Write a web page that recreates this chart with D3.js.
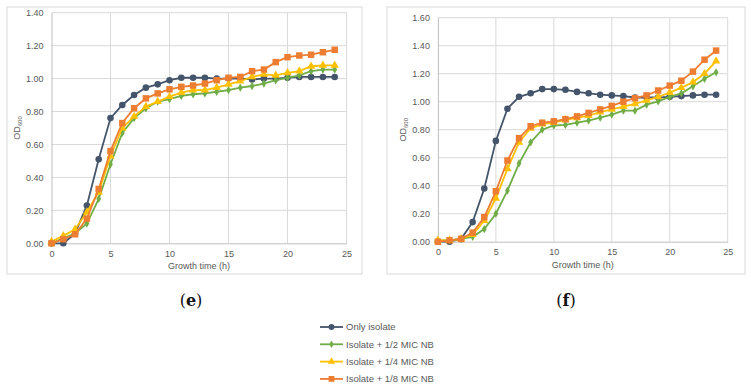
<!DOCTYPE html>
<html>
<head>
<meta charset="utf-8">
<script src="https://cdn.jsdelivr.net/npm/d3@7"></script>
<style>
  body { margin: 0; background: #fff; }
  text { font-family: "Liberation Sans", Arial, sans-serif; }
  text.panel { font-family: "DejaVu Serif", "Liberation Serif", serif; }
</style>
</head>
<body>
<svg width="751" height="387"></svg>
<script>
// hours 0..24
let hours = d3.range(0, 25)
let seriesNames = ["Only isolate", "Isolate + 1/2 MIC NB", "Isolate + 1/4 MIC NB", "Isolate + 1/8 MIC NB"]
let colors = ["#44546a", "#70ad47", "#ffc000", "#ed7d31"]
let shapes = ["circle", "diamond", "triangle", "square"]

// panel (e)
let eOnly = [0.00, 0.00, 0.06, 0.23, 0.51, 0.76, 0.84, 0.90, 0.945, 0.965, 0.99, 1.005, 1.005, 1.005, 1.00, 1.00, 1.00, 0.995, 1.00, 1.00, 1.005, 1.01, 1.01, 1.01, 1.01]
let eHalf = [0.00, 0.03, 0.06, 0.12, 0.27, 0.48, 0.67, 0.76, 0.82, 0.86, 0.875, 0.895, 0.905, 0.91, 0.92, 0.93, 0.945, 0.955, 0.97, 0.99, 1.005, 1.02, 1.045, 1.055, 1.055]
let eQuarter = [0.01, 0.045, 0.085, 0.19, 0.31, 0.53, 0.70, 0.77, 0.83, 0.86, 0.89, 0.915, 0.93, 0.93, 0.945, 0.965, 0.985, 1.01, 1.025, 1.02, 1.035, 1.045, 1.075, 1.08, 1.08]
let eEighth = [0.00, 0.025, 0.055, 0.15, 0.33, 0.56, 0.73, 0.82, 0.88, 0.91, 0.935, 0.95, 0.958, 0.97, 0.99, 1.005, 1.01, 1.045, 1.055, 1.10, 1.13, 1.14, 1.145, 1.16, 1.175]

// panel (f)
let fOnly = [0.00, 0.00, 0.02, 0.14, 0.38, 0.72, 0.95, 1.035, 1.06, 1.09, 1.09, 1.085, 1.07, 1.06, 1.05, 1.045, 1.04, 1.03, 1.03, 1.03, 1.035, 1.04, 1.045, 1.05, 1.05]
let fHalf = [0.01, 0.01, 0.02, 0.035, 0.09, 0.20, 0.365, 0.56, 0.71, 0.80, 0.83, 0.835, 0.85, 0.865, 0.886, 0.908, 0.936, 0.936, 0.979, 1.002, 1.035, 1.06, 1.11, 1.164, 1.21]
let fQuarter = [0.01, 0.01, 0.02, 0.05, 0.15, 0.31, 0.52, 0.71, 0.81, 0.84, 0.85, 0.87, 0.885, 0.90, 0.925, 0.945, 0.965, 0.985, 1.01, 1.035, 1.065, 1.10, 1.14, 1.20, 1.29]
let fEighth = [0.00, 0.01, 0.02, 0.065, 0.175, 0.36, 0.58, 0.74, 0.825, 0.85, 0.86, 0.875, 0.895, 0.92, 0.945, 0.97, 1.00, 1.025, 1.045, 1.08, 1.115, 1.15, 1.215, 1.30, 1.365]

let xTicks = [0, 5, 10, 15, 20, 25]
let eTicks = [0, 0.2, 0.4, 0.6, 0.8, 1.0, 1.2, 1.4]
let fTicks = [0, 0.2, 0.4, 0.6, 0.8, 1.0, 1.2, 1.4, 1.6]

let svg = d3.select("svg")
let grey = "#595959"
let gridCol = "#d9d9d9"

function symbolPath(shape, size) {
    let t = {circle: d3.symbolCircle, diamond: d3.symbolDiamond, triangle: d3.symbolTriangle, square: d3.symbolSquare}[shape]
    return d3.symbol().type(t).size(size)()
}
let sizes = {circle: 34, diamond: 20, triangle: 30, square: 42}

function panel(box, plot, yMax, yTicks, series, label, labelX) {
    svg.append("rect")
    .attr("x", box[0]).attr("y", box[1])
    .attr("width", box[2]).attr("height", box[3])
    .attr("fill", "#fff").attr("stroke", gridCol).attr("stroke-width", 1)

    let x = d3.scaleLinear().domain([0, 25]).range([plot[0], plot[1]])
    let y = d3.scaleLinear().domain([0, yMax]).range([plot[3], plot[2]])

    let g = svg.append("g")

    // gridlines
    g.selectAll(".hg").data(yTicks.slice(1)).enter().append("line")
    .attr("x1", plot[0]).attr("x2", plot[1])
    .attr("y1", (d) => y(d)).attr("y2", (d) => y(d))
    .attr("stroke", gridCol).attr("stroke-width", 1)
    g.selectAll(".vg").data(xTicks.slice(1)).enter().append("line")
    .attr("x1", (d) => x(d)).attr("x2", (d) => x(d))
    .attr("y1", plot[2]).attr("y2", plot[3])
    .attr("stroke", gridCol).attr("stroke-width", 1)

    // axes
    let ax = g.append("g")
    .attr("transform", "translate(0," + plot[3] + ")")
    .call(d3.axisBottom(x).tickValues(xTicks).tickSize(0).tickPadding(7))
    ax.select(".domain").attr("stroke", "#bfbfbf")
    ax.selectAll("text").attr("fill", grey).attr("font-size", "9px")

    let ay = g.append("g")
    .attr("transform", "translate(" + plot[0] + ",0)")
    .call(d3.axisLeft(y).tickValues(yTicks).tickFormat(d3.format(".2f")).tickSize(0).tickPadding(8))
    ay.select(".domain").attr("stroke", "#bfbfbf")
    ay.selectAll("text").attr("fill", grey).attr("font-size", "9px")

    // axis titles
    let yt = svg.append("text")
    .attr("transform", "translate(" + (plot[0] - 32) + "," + ((plot[2] + plot[3]) / 2) + ") rotate(-90)")
    .attr("text-anchor", "middle")
    .attr("fill", grey).attr("font-size", "9px")
    yt.append("tspan").text("OD")
    yt.append("tspan").text("600").attr("font-size", "6px").attr("dy", 2)

    svg.append("text")
    .attr("x", (plot[0] + plot[1]) / 2).attr("y", plot[3] + 26)
    .attr("text-anchor", "middle")
    .attr("fill", grey).attr("font-size", "9px")
    .text("Growth time (h)")

    // lines + markers
    series.forEach((vals, i) => {
        let pts = hours.map((h, j) => ({h: h, v: vals[j]}))
        svg.append("path")
        .datum(pts)
        .attr("fill", "none")
        .attr("stroke", colors[i])
        .attr("stroke-width", 1.8)
        .attr("d", d3.line().x((d) => x(d.h)).y((d) => y(d.v)))
        svg.selectAll(".m" + label + i).data(pts).enter().append("path")
        .attr("d", symbolPath(shapes[i], sizes[shapes[i]]))
        .attr("transform", (d) => "translate(" + x(d.h) + "," + y(d.v) + ")")
        .attr("fill", colors[i])
    })

    svg.append("text")
    .attr("class", "panel")
    .attr("x", labelX).attr("y", 306)
    .attr("text-anchor", "middle")
    .attr("font-size", "16px")
    .attr("fill", "#111")
    .html("(<tspan font-weight='bold'>" + label + "</tspan>)")
}

panel([7, 7, 355, 267], [51.5, 346.5, 12.7, 243.3], 1.4, eTicks, [eOnly, eHalf, eQuarter, eEighth], "e", 191)
panel([387, 7, 358, 267], [437.9, 727.7, 17.7, 241.7], 1.6, fTicks, [fOnly, fHalf, fQuarter, fEighth], "f", 566)

// legend
let leg = svg.append("g")
seriesNames.forEach((name, i) => {
    let ly = 327 + i * 17.3
    leg.append("line").attr("x1", 320).attr("x2", 343).attr("y1", ly).attr("y2", ly)
    .attr("stroke", colors[i]).attr("stroke-width", 1.8)
    leg.append("path").attr("d", symbolPath(shapes[i], sizes[shapes[i]] * 0.8))
    .attr("transform", "translate(331.5," + ly + ")").attr("fill", colors[i])
    leg.append("text").attr("x", 346).attr("y", ly + 3.3)
    .attr("fill", grey).attr("font-size", "9.5px").text(name)
})
</script>
</body>
</html>
